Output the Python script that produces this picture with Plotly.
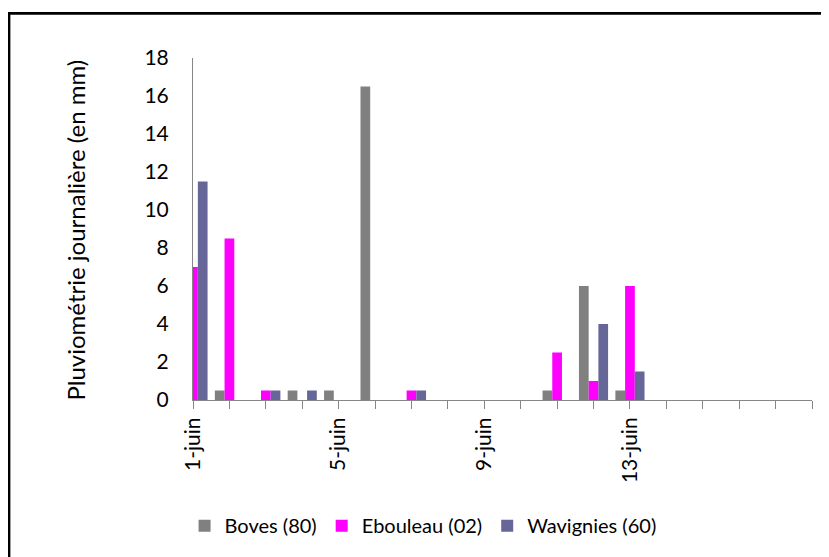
import plotly.graph_objects as go

days = list(range(1, 19))
tick_labels = ["1-juin", "", "", "", "5-juin", "", "", "", "9-juin", "", "", "",
               "13-juin", "", "", "", "", ""]
boves = [0, 0.5, 0, 0.5, 0.5, 16.5, 0, 0, 0, 0, 0.5, 6, 0.5, 0, 0, 0, 0, 0]
ebouleau = [7, 8.5, 0.5, 0, 0, 0, 0.5, 0, 0, 0, 2.5, 1, 6, 0, 0, 0, 0, 0]
wavignies = [11.5, 0, 0.5, 0.5, 0, 0, 0.5, 0, 0, 0, 0, 4, 1.5, 0, 0, 0, 0, 0]
series_names = ["Boves (80)", "Ebouleau (02)", "Wavignies (60)"]
colors = ["#808080", "#FF00FF", "#666699"]

OFF = 8  # page body margin
W, H = 829 - OFF, 557 - OFF
L, R, T, B = 192.7 - OFF, 812.3 - OFF, 58.0 - OFF, 401.7 - OFF
pw, ph = R - L, B - T

def px(x):  # screen x -> paper
    return (x - OFF - L) / pw

def py(y):  # screen y -> paper
    return (B - (y - OFF)) / ph

FONT = "Lato"
fig = go.Figure()
for name, vals, col in zip(series_names, [boves, ebouleau, wavignies], colors):
    fig.add_trace(go.Bar(x=days, y=vals, name=name, marker_color=col,
                         marker_line_width=0))

fig.update_layout(
    width=W, height=H,
    margin=dict(l=L, r=W - R, t=T, b=H - B, pad=0),
    paper_bgcolor="white", plot_bgcolor="white",
    barmode="group", bargap=0.2, bargroupgap=0,
    font=dict(family=FONT, size=21, color="black"),
    showlegend=True,
    legend=dict(orientation="h", x=px(423), xanchor="center", y=py(528), yanchor="middle",
                font=dict(family=FONT, size=20), itemwidth=30,
                traceorder="normal", borderwidth=0),
)
fig.update_xaxes(
    range=[1, 18], tickmode="array", tickvals=days, ticktext=tick_labels,
    tickangle=-90, ticks="outside", ticklen=8, tickcolor="#868686", tickwidth=1,
    showline=True, linecolor="#868686", linewidth=1, showgrid=False, zeroline=False,
    tickfont=dict(family=FONT, size=21),
)
fig.update_yaxes(
    range=[0, 18], dtick=2, ticks="outside", ticklen=19, tickcolor="rgba(0,0,0,0)",
    showline=True, linecolor="#868686", linewidth=1, showgrid=False, zeroline=False,
    tickfont=dict(family=FONT, size=21),
)
fig.add_annotation(text="Pluviométrie journalière (en mm)", xref="paper", yref="paper",
                   x=px(75), y=py(231), textangle=-90, showarrow=False,
                   xanchor="center", yanchor="middle",
                   font=dict(family=FONT, size=24, color="black"))
fig.add_shape(type="rect", xref="paper", yref="paper",
              x0=px(8.6), x1=px(900), y0=py(640), y1=py(13.2),
              line=dict(color="black", width=2.6), fillcolor="rgba(0,0,0,0)",
              layer="above")

fig.write_html("out.html")
